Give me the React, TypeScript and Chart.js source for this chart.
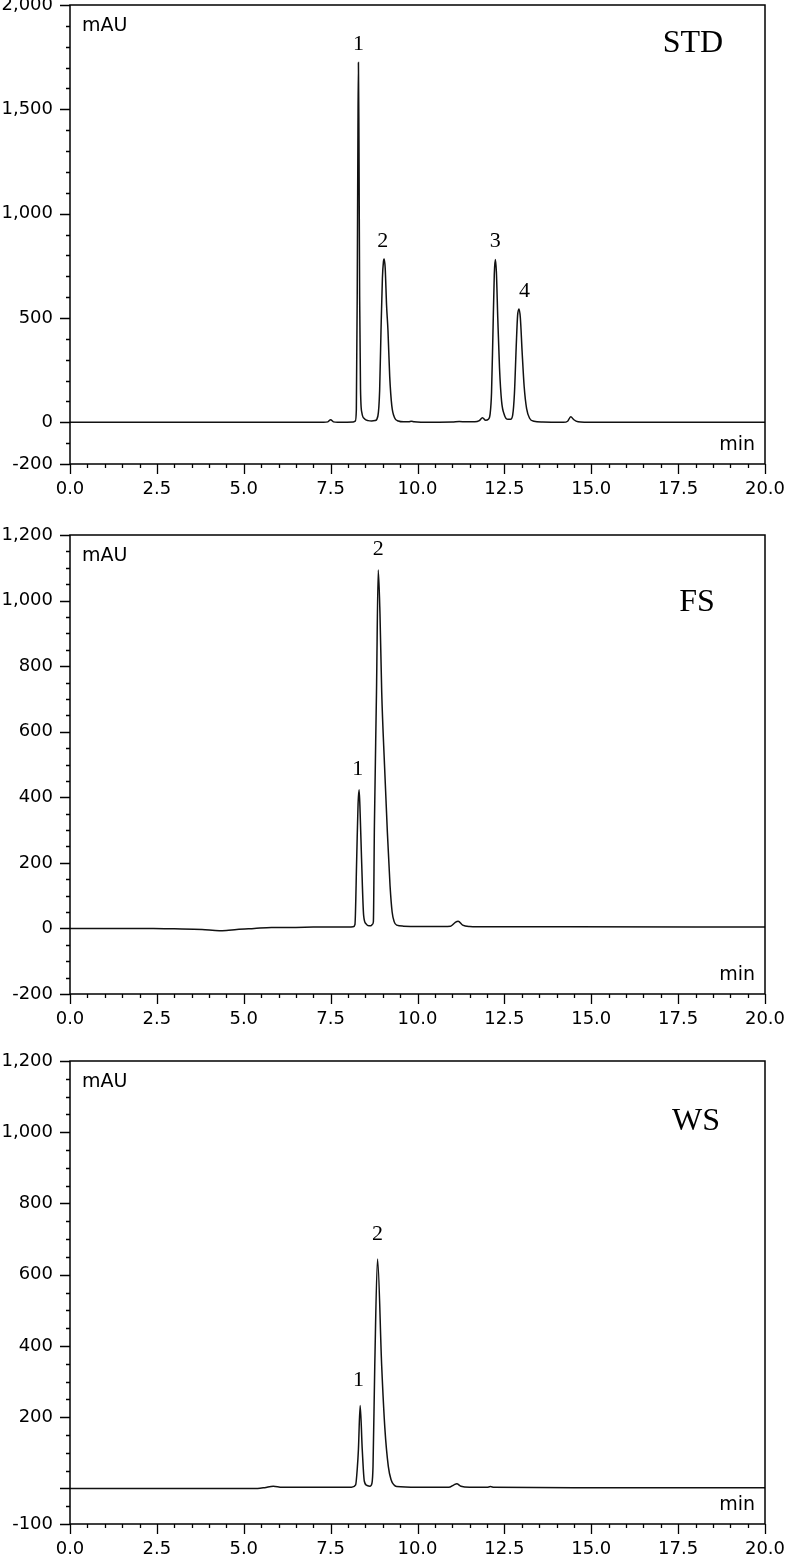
import React, { useEffect, useRef } from "react";
import { Chart, registerables } from "chart.js";

Chart.register(...registerables);

// ---------------- DATA ----------------
const xTickValues: number[] = Array.from({ length: 41 }, (_, i) => i * 0.5);
const xLabelValues: number[] = [0, 2.5, 5, 7.5, 10, 12.5, 15, 17.5, 20];

// STD
const stdTimes: number[] = [
  0, 7.3, 7.42, 7.5, 7.58, 7.7, 8.15, 8.21, 8.24, 8.265, 8.285, 8.3, 8.315, 8.335, 8.36, 8.4, 8.48, 8.58, 8.68,
  8.78, 8.86, 8.91, 8.95, 8.99, 9.02, 9.04, 9.07, 9.11, 9.15, 9.2, 9.26, 9.34, 9.45, 9.6, 9.75, 9.82, 9.9, 10.1,
  11.0, 11.2, 11.4, 11.65, 11.78, 11.87, 11.96, 12.04, 12.09, 12.13, 12.17, 12.21, 12.24, 12.27, 12.31, 12.36,
  12.42, 12.5, 12.6, 12.68, 12.74, 12.79, 12.84, 12.88, 12.92, 12.96, 13.01, 13.07, 13.14, 13.23, 13.35, 13.6,
  14.2, 14.32, 14.41, 14.5, 14.62, 14.8, 20,
];
const stdValues: number[] = [
  0, 0, 2, 12, 2, 0, 1, 6, 60, 600, 1350, 1724, 1350, 600, 160, 45, 16, 8, 6,
  8, 30, 150, 441, 690, 770, 783, 740, 560, 441, 220, 80, 22, 6, 2, 2, 5, 2, 0,
  1, 4, 2, 2, 8, 22, 10, 15, 40, 140, 420, 710, 780, 720, 500, 260,
  100, 35, 14, 14, 35, 140, 360, 510, 543, 500, 340, 170, 65, 18, 5, 1,
  0, 5, 27, 12, 2, 0, 0,
];
const stdYTicks: number[] = Array.from({ length: 23 }, (_, i) => -200 + i * 100);
const stdYLabels: number[] = [-200, 0, 500, 1000, 1500, 2000];
const stdPeakLabels: string[] = ["1", "2", "3", "4"];
const stdPeakTimes: number[] = [8.3, 9.0, 12.24, 13.08];
const stdPeakValues: number[] = [1724, 783, 780, 543];

// FS
const fsTimes: number[] = [
  0, 2.4, 3.0, 3.8, 4.3, 4.5, 4.8, 5.3, 5.8, 6.5, 7.0, 7.5, 8.0, 8.15, 8.2, 8.25, 8.29, 8.32, 8.35, 8.39, 8.45,
  8.52, 8.6, 8.66, 8.7, 8.73, 8.76, 8.82, 8.87, 8.92, 8.97, 9.05, 9.13, 9.21, 9.27, 9.33, 9.4, 9.6, 10.0, 10.5,
  10.95, 11.08, 11.17, 11.3, 11.5, 12.0, 13.0, 14.4, 20,
];
const fsValues: number[] = [
  0, 0, -1, -3, -7, -6, -3, 0, 3, 3, 4, 4, 4, 5, 12, 212, 380, 423, 350, 212, 40,
  14, 8, 8, 12, 20, 313, 721, 1093, 960, 721, 500, 300, 130, 50, 20, 10, 7, 6, 6,
  7, 18, 22, 10, 6, 5, 5, 5, 4,
];
const fsYTicks: number[] = Array.from({ length: 29 }, (_, i) => -200 + i * 50);
const fsYLabels: number[] = [-200, 0, 200, 400, 600, 800, 1000, 1200];
const fsPeakLabels: string[] = ["1", "2"];
const fsPeakTimes: number[] = [8.28, 8.87];
const fsPeakValues: number[] = [423, 1093];

// WS
const wsTimes: number[] = [
  0, 5.4, 5.6, 5.85, 6.1, 7.0, 8.1, 8.22, 8.27, 8.3, 8.35, 8.41, 8.47, 8.55, 8.63, 8.69, 8.72, 8.77, 8.85, 8.97,
  9.06, 9.16, 9.24, 9.32, 9.4, 10.0, 10.9, 11.05, 11.13, 11.25, 11.5, 12.0, 12.1, 12.2, 14.5, 20,
];
const wsValues: number[] = [
  0, 0, 2, 6, 3, 3, 3, 10, 60, 109, 233, 109, 20, 8, 6, 15, 62, 343, 644, 343,
  170, 62, 24, 10, 5, 3, 3, 10, 13, 6, 3, 3, 5, 3, 2, 2,
];
const wsYTicks: number[] = Array.from({ length: 27 }, (_, i) => -100 + i * 50);
const wsYLabels: number[] = [-100, 200, 400, 600, 800, 1000, 1200];
const wsMajorUnlabeled: number[] = [0];
const wsPeakLabels: string[] = ["1", "2"];
const wsPeakTimes: number[] = [8.3, 8.85];
const wsPeakValues: number[] = [233, 644];

// ---------------- CHART ----------------
const SANS = '"DejaVu Sans", Verdana, sans-serif';
const SERIF = '"Liberation Serif", "Times New Roman", serif';

type PanelProps = {
  top: number;
  height: number;
  padTop: number;
  padBottom: number;
  times: number[];
  values: number[];
  yMin: number;
  yMax: number;
  yTicks: number[];
  yLabels: number[];
  yMajorExtra?: number[];
  title: string;
  titleDx: number;
  titleDy: number;
  labelGap: number;
  peakLabels: string[];
  peakTimes: number[];
  peakValues: number[];
};

function Panel(props: PanelProps) {
  const ref = useRef<HTMLCanvasElement | null>(null);
  useEffect(() => {
    const canvas = ref.current;
    if (!canvas) return;
    const majorY = new Set<number>([...props.yLabels, ...(props.yMajorExtra || [])]);
    const labelY = new Set<number>(props.yLabels);
    const labelX = new Set<number>(xLabelValues);

    const decor = {
      id: "decor",
      afterDraw(chart: any) {
        const ctx = chart.ctx as CanvasRenderingContext2D;
        const a = chart.chartArea;
        const xs = chart.scales.x;
        const ys = chart.scales.y;
        ctx.save();
        ctx.strokeStyle = "#000";
        ctx.lineWidth = 1.5;
        ctx.strokeRect(a.left, a.top, a.right - a.left, a.bottom - a.top);
        ctx.lineWidth = 1.3;
        ctx.beginPath();
        for (const v of props.yTicks) {
          const py = Math.round(ys.getPixelForValue(v)) + 0.5;
          const len = majorY.has(v) ? 10 : 4;
          ctx.moveTo(a.left - len, py);
          ctx.lineTo(a.left, py);
        }
        for (const v of xTickValues) {
          const px = Math.round(xs.getPixelForValue(v)) + 0.5;
          const len = labelX.has(v) ? 10 : 4;
          ctx.moveTo(px, a.bottom);
          ctx.lineTo(px, a.bottom + len);
        }
        ctx.stroke();

        ctx.fillStyle = "#000";
        ctx.font = `19px ${SANS}`;
        ctx.textBaseline = "middle";
        ctx.textAlign = "left";
        ctx.fillText("mAU", a.left + 12, a.top + 21);
        ctx.textAlign = "right";
        ctx.fillText("min", a.right - 10, a.bottom - 19);

        ctx.font = `32px ${SERIF}`;
        ctx.textAlign = "center";
        ctx.fillText(props.title, a.left + props.titleDx, a.top + props.titleDy);

        ctx.font = `22px ${SERIF}`;
        props.peakLabels.forEach((t, i) => {
          const px = xs.getPixelForValue(props.peakTimes[i]);
          const py = ys.getPixelForValue(props.peakValues[i]);
          ctx.fillText(t, px, py - props.labelGap);
        });
        ctx.restore();
      },
    };

    const chart = new Chart(canvas, {
      type: "line",
      data: {
        datasets: [
          {
            data: props.times.map((t, i) => ({ x: t, y: props.values[i] })),
            borderColor: "#111",
            borderWidth: 1.5,
            pointRadius: 0,
            cubicInterpolationMode: "monotone",
            fill: false,
          },
        ],
      },
      options: {
        responsive: false,
        animation: false,
        devicePixelRatio: 1,
        layout: { padding: { top: props.padTop, bottom: props.padBottom, left: 0, right: 23 } },
        plugins: { legend: { display: false }, tooltip: { enabled: false } },
        scales: {
          x: {
            type: "linear",
            min: 0,
            max: 20,
            afterBuildTicks: (scale: any) => {
              scale.ticks = xTickValues.map((v) => ({ value: v }));
            },
            afterFit: (scale: any) => {
              scale.height = 30;
              scale.paddingLeft = 0;
              scale.paddingRight = 0;
            },
            ticks: {
              autoSkip: false,
              maxRotation: 0,
              padding: 15,
              color: "#000",
              font: { family: SANS, size: 18 },
              callback: (v: any) => (labelX.has(Number(v)) ? Number(v).toFixed(1) : ""),
            },
            grid: { display: false, drawTicks: false },
            border: { display: false },
          },
          y: {
            type: "linear",
            min: props.yMin,
            max: props.yMax,
            afterBuildTicks: (scale: any) => {
              scale.ticks = props.yTicks.map((v) => ({ value: v }));
            },
            afterFit: (scale: any) => {
              scale.width = 70;
              scale.paddingTop = 0;
              scale.paddingBottom = 0;
            },
            ticks: {
              autoSkip: false,
              padding: 17,
              color: "#000",
              font: { family: SANS, size: 18 },
              callback: (v: any) => (labelY.has(Number(v)) ? Number(v).toLocaleString("en-US") : ""),
            },
            grid: { display: false, drawTicks: false },
            border: { display: false },
          },
        },
      },
      plugins: [decor],
    } as any);
    return () => chart.destroy();
  }, []);
  return (
    <canvas
      ref={ref}
      width={788}
      height={props.height}
      style={{ position: "absolute", left: 0, top: props.top, width: 788, height: props.height, display: "block" }}
    />
  );
}

export default function App() {
  return (
    <div style={{ position: "absolute", left: 0, top: 0, width: 788, height: 1554, background: "#fff" }}>
      <Panel
        top={0}
        height={520}
        padTop={5}
        padBottom={26}
        times={stdTimes}
        values={stdValues}
        yMin={-200}
        yMax={2000}
        yTicks={stdYTicks}
        yLabels={stdYLabels}
        title="STD"
        titleDx={623}
        titleDy={39}
        labelGap={18}
        peakLabels={stdPeakLabels}
        peakTimes={stdPeakTimes}
        peakValues={stdPeakValues}
      />
      <Panel
        top={520}
        height={518}
        padTop={15}
        padBottom={14}
        times={fsTimes}
        values={fsValues}
        yMin={-200}
        yMax={1200}
        yTicks={fsYTicks}
        yLabels={fsYLabels}
        title="FS"
        titleDx={627}
        titleDy={68}
        labelGap={21}
        peakLabels={fsPeakLabels}
        peakTimes={fsPeakTimes}
        peakValues={fsPeakValues}
      />
      <Panel
        top={1038}
        height={516}
        padTop={23}
        padBottom={0}
        times={wsTimes}
        values={wsValues}
        yMin={-100}
        yMax={1200}
        yTicks={wsYTicks}
        yLabels={wsYLabels}
        yMajorExtra={wsMajorUnlabeled}
        title="WS"
        titleDx={626}
        titleDy={61}
        labelGap={25}
        peakLabels={wsPeakLabels}
        peakTimes={wsPeakTimes}
        peakValues={wsPeakValues}
      />
    </div>
  );
}
